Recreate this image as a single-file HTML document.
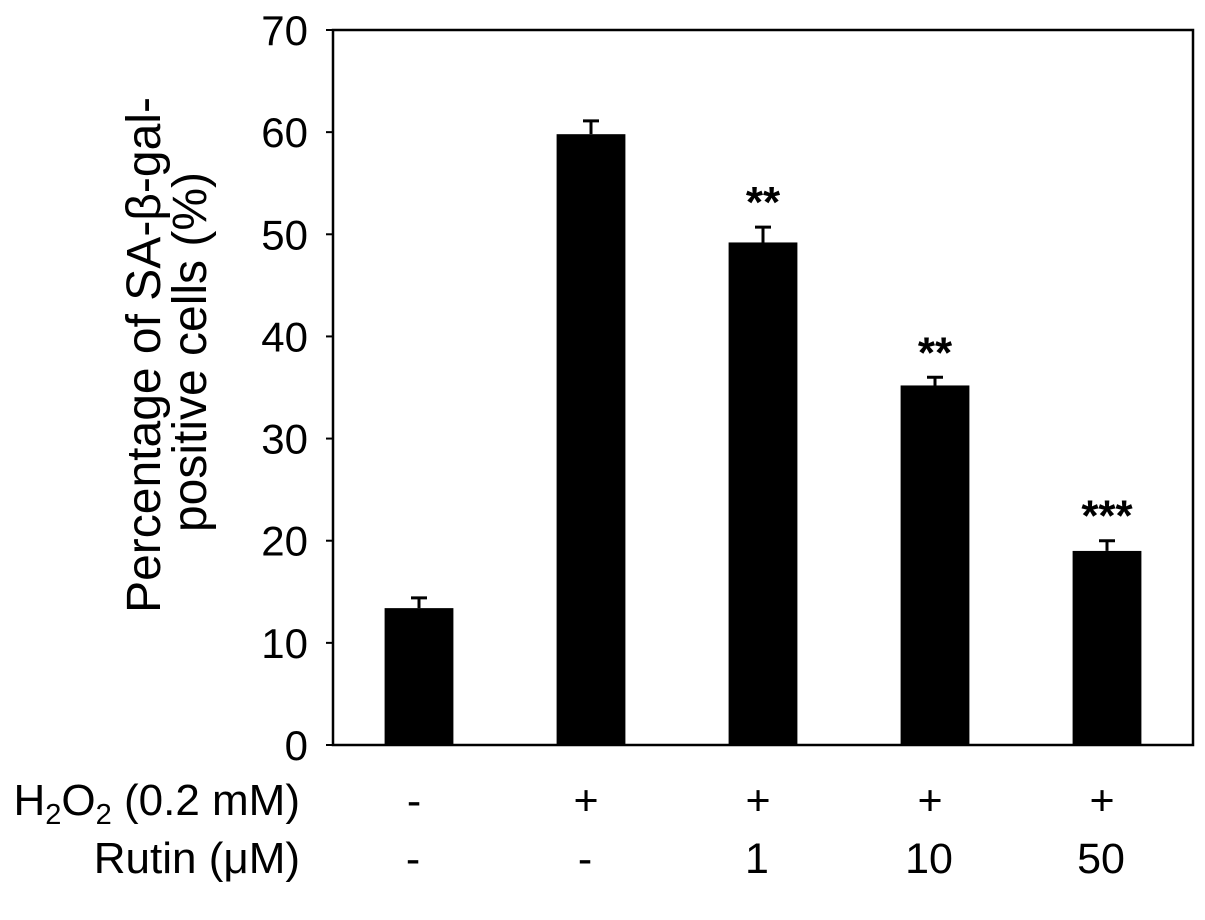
<!DOCTYPE html>
<html><head><meta charset="utf-8"><style>
html,body{margin:0;padding:0;background:#fff;}
svg{display:block;font-family:"Liberation Sans",Arial,sans-serif;}
</style></head><body>
<svg id="chart" width="1205" height="920" viewBox="0 0 1205 920" xmlns="http://www.w3.org/2000/svg">
<g id="axes"></g><g id="bars"></g><g id="labels"></g>
</svg>
<script>
const categories = ["control","h2o2","rutin-1","rutin-10","rutin-50"];
const values = [13.4, 59.8, 49.2, 35.2, 19.0];
const errors = [1.0, 1.3, 1.5, 0.8, 1.0];
const stars = ["", "", "**", "**", "***"];
const h2o2Row = ["-", "+", "+", "+", "+"];
const rutinRow = ["-", "-", "1", "10", "50"];
const yTicks = [0,10,20,30,40,50,60,70];

const NS="http://www.w3.org/2000/svg";
const L=333, R=1193, T=30, B=745, YMAX=70;
const bw=(R-L)/categories.length, barW=bw*0.4;
function y(v){return B-(v/YMAX)*(B-T);}
function xc(i){return L+bw*(i+0.5);}
function mk(tag,attrs,parent,text){const e=document.createElementNS(NS,tag);for(const k in attrs)e.setAttribute(k,attrs[k]);if(text!==undefined)e.textContent=text;document.getElementById(parent).appendChild(e);return e;}

let e=mk('rect',{x:L,y:T,width:R-L,height:B-T,fill:'none',stroke:'#000','stroke-width':2.5},'axes');


yTicks.forEach(t=>{
  let tk=mk('line',{x1:L-7,x2:L,y1:y(t),y2:y(t),stroke:'#000','stroke-width':2},'axes');
  
  
  let lb=mk('text',{x:308,y:y(t)+15,'text-anchor':'end','font-size':42},'axes',String(t));
  
  
});
categories.forEach((c,i)=>{
  const cx=xc(i);
  let b=mk('rect',{x:cx-barW/2,y:y(values[i]),width:barW,height:B-y(values[i]),fill:'#000'},'bars');
  
  
  const et=y(values[i]+errors[i]);
  let el=mk('path',{d:`M${cx},${y(values[i])}V${et}M${cx-8},${et}H${cx+8}`,stroke:'#000','stroke-width':3,fill:'none'},'bars');
  
  
  if(stars[i]){
    let s=mk('text',{x:cx,y:et+4-14,'text-anchor':'middle','font-size':44,'font-weight':'bold'},'bars',stars[i]);
    
    
  }
  let h=mk('text',{x:cx-5,y:815,'text-anchor':'middle','font-size':43},'labels',h2o2Row[i]);
  
  
  let r=mk('text',{x:cx-6,y:873,'text-anchor':'middle','font-size':43},'labels',rutinRow[i]);
  
  
});
</script>
<svg style="position:absolute;left:0;top:0" width="1205" height="920" xmlns="http://www.w3.org/2000/svg" font-family="Liberation Sans, Arial, sans-serif">
<text x="300" y="815" text-anchor="end" font-size="44">H<tspan font-size="29" dy="9">2</tspan><tspan dy="-9">O</tspan><tspan font-size="29" dy="9">2</tspan><tspan dy="-9"> (0.2 mM)</tspan></text>
<text x="300" y="873" text-anchor="end" font-size="44">Rutin (μM)</text>
<g>
<text x="160" y="355" transform="rotate(-90 160 355)" text-anchor="middle" font-size="48">Percentage of SA-β-gal-</text>
<text x="206" y="352" transform="rotate(-90 206 352)" text-anchor="middle" font-size="48">positive cells (%)</text>
</g>
</svg>
</body></html>
